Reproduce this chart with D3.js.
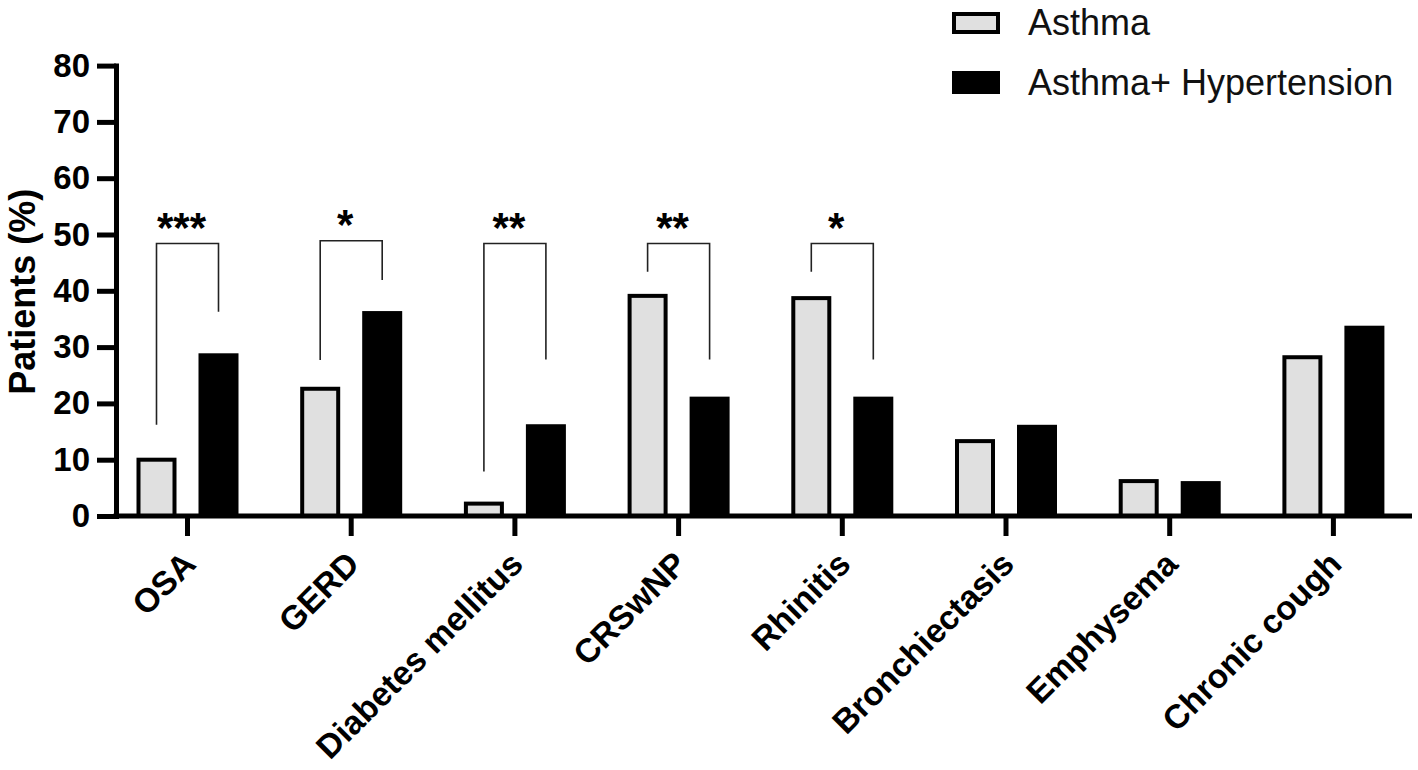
<!DOCTYPE html>
<html>
<head>
<meta charset="utf-8">
<script src="https://cdn.jsdelivr.net/npm/d3@7"></script>
<style>
  html, body { margin: 0; padding: 0; background: #fff; }
  svg { display: block; }
  text { font-family: "Liberation Sans", Arial, Helvetica, sans-serif; }
</style>
</head>
<body>
<svg id="chart" width="1418" height="770"></svg>
<script>
// ---- data ----
const categories = ["OSA", "GERD", "Diabetes mellitus", "CRSwNP", "Rhinitis", "Bronchiectasis", "Emphysema", "Chronic cough"];
const seriesNames = ["Asthma", "Asthma+ Hypertension"];
const asthmaValues = [10.0, 22.6, 2.2, 39.1, 38.7, 13.3, 6.2, 28.2];
const asthmaHtnValues = [28.9, 36.4, 16.3, 21.2, 21.2, 16.2, 6.2, 33.8];
const yTicks = [0, 10, 20, 30, 40, 50, 60, 70, 80];
const yTitle = "Patients (%)";
// significance brackets (values in % units)
const bracketCategories = ["OSA", "GERD", "Diabetes mellitus", "CRSwNP", "Rhinitis"];
const bracketLabels = ["***", "*", "**", "**", "*"];
const bracketTop = [48.4, 48.9, 48.4, 48.4, 48.4];
const bracketLeftEnd = [16.2, 27.7, 7.9, 43.4, 43.4];
const bracketRightEnd = [36.3, 41.9, 27.8, 27.8, 27.8];

// ---- layout ----
const svg = d3.select("#chart");
const axisX = 116, axisY = 516, topY = 65.6;
const step = 163.7, firstCenter = 187.5;

const x = d3.scaleBand()
  .domain(categories)
  .range([firstCenter - step / 2, firstCenter + (categories.length - 0.5) * step])
  .paddingInner(0).paddingOuter(0);
const xSub = d3.scaleBand().domain(seriesNames).range([-62, 62]);
const y = d3.scaleLinear().domain([0, 80]).range([axisY, topY]);

const center = c => x(c) + x.bandwidth() / 2;
const subCenter = s => xSub(s) + xSub.bandwidth() / 2;
const barW = 40;

const rows = categories.map((c, i) => ({ cat: c, vals: [asthmaValues[i], asthmaHtnValues[i]] }));

// bars
const g = svg.append("g");
const groups = g.selectAll("g.grp").data(rows).join("g").attr("class", "grp");
// Asthma (gray, outlined)
groups.append("rect")
  .attr("x", d => center(d.cat) + subCenter(seriesNames[0]) - (barW - 4) / 2)
  .attr("y", d => y(d.vals[0]))
  .attr("width", barW - 4)
  .attr("height", d => y(0) - y(d.vals[0]))
  .attr("fill", "#e0e0e0")
  .attr("stroke", "#000")
  .attr("stroke-width", 4);
// Asthma + Hypertension (black)
groups.append("rect")
  .attr("x", d => center(d.cat) + subCenter(seriesNames[1]) - barW / 2)
  .attr("y", d => y(d.vals[1]))
  .attr("width", barW)
  .attr("height", d => y(0) - y(d.vals[1]))
  .attr("fill", "#000");

// y axis
const yAxis = d3.axisLeft(y).tickValues(yTicks).tickSize(19).tickSizeOuter(0).tickPadding(7);
const yg = svg.append("g").attr("transform", `translate(${axisX},0)`).call(yAxis);
yg.select(".domain").attr("stroke", "#000").attr("stroke-width", 5).attr("stroke-linecap", "square");
yg.selectAll(".tick line").attr("stroke", "#000").attr("stroke-width", 5);
yg.selectAll(".tick text")
  .attr("font-size", 33).attr("font-weight", "bold").attr("fill", "#000")
  .attr("font-family", "'Liberation Sans', Arial, sans-serif");

// x axis
const xAxis = d3.axisBottom(x).tickSize(20).tickSizeOuter(0);
const xg = svg.append("g").attr("transform", `translate(0,${axisY})`).call(xAxis);
xg.select(".domain").remove();
xg.append("line").attr("x1", axisX - 2.5).attr("x2", 1412).attr("y1", 0).attr("y2", 0)
  .attr("stroke", "#000").attr("stroke-width", 5);
xg.selectAll(".tick line").attr("stroke", "#000").attr("stroke-width", 5);
xg.selectAll(".tick text")
  .attr("x", 0).attr("y", 0).attr("dy", 0)
  .attr("text-anchor", "end")
  .attr("transform", "translate(10,50) rotate(-45)")
  .attr("font-size", 33.5).attr("font-weight", "bold").attr("fill", "#000")
  .attr("font-family", "'Liberation Sans', Arial, sans-serif");

// y title
svg.append("text")
  .attr("transform", `translate(35,${(y(0) + y(80)) / 2 + 1}) rotate(-90)`)
  .attr("text-anchor", "middle")
  .attr("font-size", 36).attr("font-weight", "bold").attr("fill", "#000")
  .text(yTitle);

// brackets
const bg = svg.append("g");
bracketCategories.forEach((c, i) => {
  const xl = center(c) + subCenter(seriesNames[0]);
  const xr = center(c) + subCenter(seriesNames[1]);
  const path = d3.path();
  path.moveTo(xl, y(bracketLeftEnd[i]));
  path.lineTo(xl, y(bracketTop[i]));
  path.lineTo(xr, y(bracketTop[i]));
  path.lineTo(xr, y(bracketRightEnd[i]));
  bg.append("path").attr("d", path.toString())
    .attr("fill", "none").attr("stroke", "#222").attr("stroke-width", 1.6);
  bg.append("text")
    .attr("x", (xl + xr) / 2 - 6)
    .attr("y", y(bracketTop[i]) - 2)
    .attr("text-anchor", "middle")
    .attr("font-size", 42).attr("font-weight", "bold").attr("fill", "#000")
    .text(bracketLabels[i]);
});

// legend
const lg = svg.append("g");
const legendRows = [35, 95];
seriesNames.forEach((s, i) => {
  if (i === 0) {
    lg.append("rect").attr("x", 954).attr("y", 14).attr("width", 44).attr("height", 18)
      .attr("fill", "#e0e0e0").attr("stroke", "#000").attr("stroke-width", 4);
  } else {
    lg.append("rect").attr("x", 952).attr("y", 71).attr("width", 48).attr("height", 23)
      .attr("fill", "#000");
  }
  lg.append("text").attr("x", 1028).attr("y", legendRows[i])
    .attr("font-size", 36).attr("fill", "#111").text(s);
});
</script>
</body>
</html>
